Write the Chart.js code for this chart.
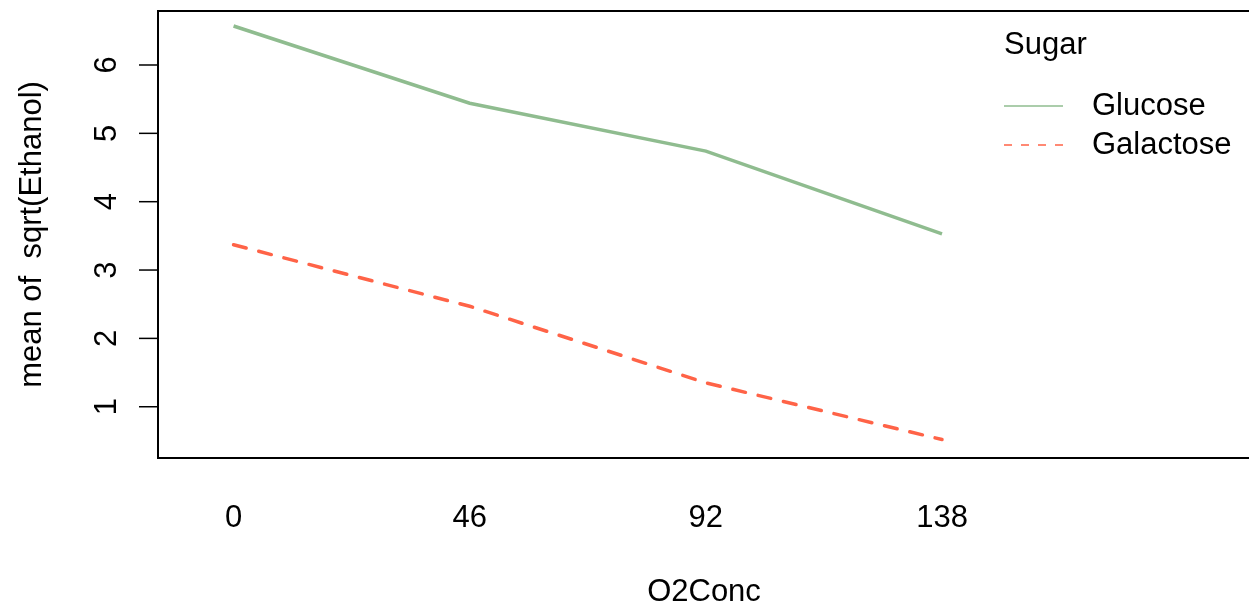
<!DOCTYPE html>
<html>
<head>
<meta charset="utf-8">
<script src="https://cdn.jsdelivr.net/npm/chart.js@4/dist/chart.umd.min.js"></script>
<style>
  html, body { margin: 0; padding: 0; background: #fff; }
  #wrap { width: 1249px; height: 607px; position: relative; }
</style>
</head>
<body>
<div id="wrap"><canvas id="myChart"></canvas></div>
<script>
// O2Conc levels, plotted at positions 1..4 like interaction.plot does
var o2Levels = ["0", "46", "92", "138"];
var o2Pos = [1, 2, 3, 4];
var glucoseMeans = [6.57, 5.44, 4.74, 3.53];
var galactoseMeans = [3.37, 2.47, 1.35, 0.52];
var yTicks = [1, 2, 3, 4, 5, 6];

var GREEN = "#8fbc8f";
var RED = "#ff6347";
var FONT = "Liberation Sans, Arial, sans-serif";

function toPoints(ys) {
    var pts = [];
    for (var i = 0; i < ys.length; i++) {
        pts.push({ x: o2Pos[i], y: ys[i] });
    }
    return pts;
}

// box, rotated y labels, x labels, titles and the legend, R style
var rDecor = {
    id: "rDecor",
    afterDraw: function (chart) {
        var ctx = chart.ctx;
        var area = chart.chartArea;
        var xs = chart.scales.x;
        var ys = chart.scales.y;
        ctx.save();

        ctx.strokeStyle = "#000";
        ctx.lineWidth = 2;
        ctx.beginPath();
        ctx.moveTo(area.right + 5, area.top);
        ctx.lineTo(area.left, area.top);
        ctx.lineTo(area.left, area.bottom);
        ctx.lineTo(area.right + 5, area.bottom);
        ctx.stroke();

        ctx.fillStyle = "#000";
        ctx.font = "31px " + FONT;
        ctx.textAlign = "center";
        ctx.textBaseline = "middle";

        // y tick marks and labels
        ctx.lineWidth = 1.5;
        for (var i = 0; i < yTicks.length; i++) {
            var py = ys.getPixelForValue(yTicks[i]);
            ctx.beginPath();
            ctx.moveTo(area.left - 19, py);
            ctx.lineTo(area.left, py);
            ctx.stroke();
            ctx.save();
            ctx.translate(107, py);
            ctx.rotate(-Math.PI / 2);
            ctx.fillText(String(yTicks[i]), 0, 0);
            ctx.restore();
        }

        // x labels (no tick marks)
        for (var j = 0; j < o2Levels.length; j++) {
            ctx.fillText(o2Levels[j], xs.getPixelForValue(o2Pos[j]), 518);
        }

        ctx.fillText("O2Conc", 704, 592);
        ctx.save();
        ctx.translate(32, (area.top + area.bottom) / 2);
        ctx.rotate(-Math.PI / 2);
        ctx.fillText("mean of  sqrt(Ethanol)", 0, 0);
        ctx.restore();

        // legend
        ctx.textAlign = "left";
        ctx.fillText("Sugar", 1004, 45);
        var sets = chart.data.datasets;
        var ly = [106, 145];
        for (var k = 0; k < sets.length; k++) {
            ctx.strokeStyle = sets[k].borderColor;
            ctx.lineWidth = 1.6;
            ctx.setLineDash(k === 1 ? [8, 9] : []);
            ctx.beginPath();
            ctx.moveTo(1004, ly[k]);
            ctx.lineTo(1063, ly[k]);
            ctx.stroke();
            ctx.setLineDash([]);
            ctx.fillText(sets[k].label, 1092, ly[k]);
        }
        ctx.restore();
    }
};

new Chart("myChart", {
    type: "line",
    data: {
        datasets: [{
                label: "Glucose",
                data: toPoints(glucoseMeans),
                borderColor: GREEN,
                borderWidth: 3.5,
                pointRadius: 0,
                tension: 0,
                fill: false
            }, {
                label: "Galactose",
                data: toPoints(galactoseMeans),
                borderColor: RED,
                borderWidth: 3.5,
                borderDash: [13, 13],
                borderCapStyle: "round",
                pointRadius: 0,
                tension: 0,
                fill: false
            }]
    },
    options: {
        responsive: true,
        maintainAspectRatio: false,
        animation: false,
        layout: { padding: { top: 11, right: 0, left: 0, bottom: 0 } },
        plugins: {
            legend: { display: false },
            tooltip: { enabled: false }
        },
        scales: {
            x: {
                type: "linear",
                min: 0.68,
                max: 5.30,
                grid: { display: false },
                border: { display: false },
                ticks: { display: false },
                afterFit: function (scale) { scale.height = 149; }
            },
            y: {
                min: 0.25,
                max: 6.79,
                grid: { display: false },
                border: { display: false },
                ticks: { display: false },
                afterFit: function (scale) { scale.width = 158; }
            }
        }
    },
    plugins: [rDecor]
});
</script>
</body>
</html>
